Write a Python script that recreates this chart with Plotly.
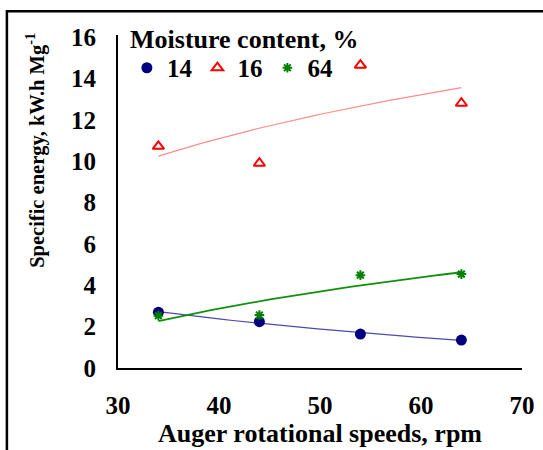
import numpy as np
import plotly.graph_objects as go

speeds = [34, 44, 54, 64]
mc_labels = ["14", "16", "64"]
energy_14 = [2.70, 2.24, 1.64, 1.35]
energy_16 = [10.72, 9.90, 14.64, 12.80]
energy_64 = [2.53, 2.56, 4.49, 4.54]

x_ticks = [30, 40, 50, 60, 70]
y_ticks = [0, 2, 4, 6, 8, 10, 12, 14, 16]

FONT = "Liberation Serif"
TICKFONT = dict(family=FONT, size=25, color="black")

series = [
    (mc_labels[0], energy_14, dict(symbol="circle", size=11, color="#000080"), "#4a4ab0", 1.2),
    (mc_labels[1], energy_16, dict(symbol="triangle-up-open", size=10, color="#ff0000",
                                    line=dict(width=2, color="#ff0000")), "#ff8c8c", 1.2),
    (mc_labels[2], energy_64, dict(symbol="asterisk-open", size=8, color="#008000",
                                    line=dict(width=2, color="#008000")), "#109010", 1.8),
]

fig = go.Figure()
xs = np.array(speeds, dtype=float)
xfit = np.linspace(xs.min(), xs.max(), 60)
for name, vals, marker, lcolor, lw in series:
    # logarithmic trendline fitted to the data (as in the original spreadsheet chart)
    b, a = np.polyfit(np.log(xs), np.array(vals), 1)
    fig.add_trace(go.Scatter(x=xfit, y=a + b * np.log(xfit), mode="lines",
                             line=dict(color=lcolor, width=lw), showlegend=False,
                             hoverinfo="skip"))
for name, vals, marker, lcolor, lw in series:
    fig.add_trace(go.Scatter(x=speeds, y=vals, mode="markers", name="<b>%s</b>" % name,
                             marker=marker))

fig.update_layout(
    width=543, height=450,
    margin=dict(l=118, r=21, t=35, b=82, autoexpand=False),
    paper_bgcolor="white", plot_bgcolor="white",
    font=dict(family=FONT, size=24, color="black"),
    showlegend=True,
    legend=dict(orientation="h", x=0.022, y=0.97, xanchor="left", yanchor="top",
                bgcolor="rgba(0,0,0,0)", font=dict(size=25, family=FONT, color="black"),
                itemwidth=30, tracegroupgap=0),
    xaxis=dict(range=[30, 70], tickvals=x_ticks, ticktext=["<b>%d</b>" % v for v in x_ticks],
               showgrid=False, zeroline=False, automargin=False,
               showline=True, linecolor="black", linewidth=2, ticks="",
               ticklabelstandoff=14, tickfont=TICKFONT,
               title=dict(text="<b>Auger rotational speeds, rpm</b>", standoff=5,
                          font=dict(size=26, family=FONT, color="black"))),
    yaxis=dict(range=[0, 16.1], tickvals=y_ticks, ticktext=["<b>%d</b>" % v for v in y_ticks],
               showgrid=False, zeroline=False, automargin=False,
               showline=True, linecolor="black", linewidth=2, ticks="",
               ticklabelstandoff=15, tickfont=TICKFONT),
    annotations=[
        dict(text="<b>Specific energy, kW.h Mg<sup>-1</sup></b>", textangle=-90,
             xref="paper", yref="paper", x=-0.203, y=0.655,
             xanchor="center", yanchor="middle", showarrow=False,
             font=dict(size=20.5, family=FONT, color="black")),
        dict(text="<b>Moisture content, %</b>", xref="paper", yref="paper",
             x=0.025, y=0.985, xanchor="left", yanchor="middle", showarrow=False,
             font=dict(size=26, family=FONT, color="black")),
    ],
    shapes=[dict(type="rect", xref="paper", yref="paper", x0=-0.275, x1=1.2,
                 y0=-0.4, y1=1.0715, line=dict(color="black", width=2.5),
                 fillcolor="rgba(0,0,0,0)", layer="above")],
)

fig.write_html("out.html", config={"displayModeBar": False},
               post_script="document.body.style.margin='0';document.body.style.overflow='hidden';")
